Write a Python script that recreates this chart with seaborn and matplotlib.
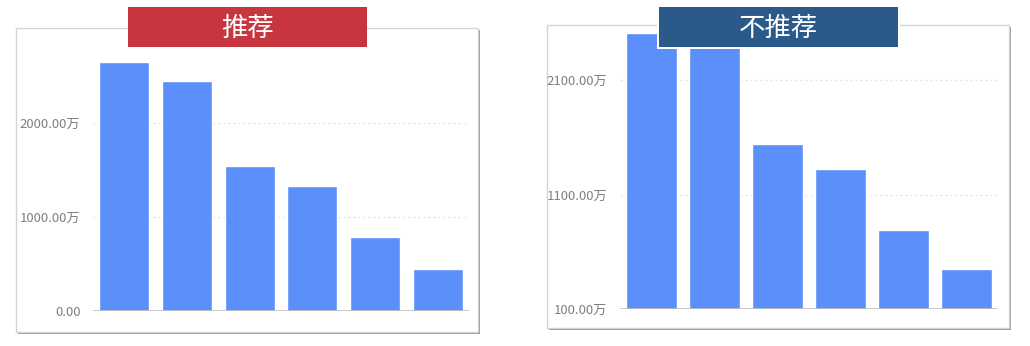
import matplotlib
matplotlib.use("Agg")
import matplotlib.pyplot as plt
import seaborn as sns
import pandas as pd
from matplotlib.patches import Rectangle
from matplotlib.ticker import FixedLocator, FuncFormatter
from matplotlib import font_manager

# ---- data ----
categories = ["1", "2", "3", "4", "5", "6"]
rec_values = [2650, 2450, 1545, 1325, 790, 450]          # 推荐 (万)
notrec_values = [2510, 2480, 1545, 1325, 795, 450]       # 不推荐 (万)
rec_ticks = [0, 1000, 2000]
notrec_ticks = [100, 1100, 2100]
titles = ["推荐", "不推荐"]

sns.set_theme(style="white")
plt.rcParams['font.family'] = ['Noto Sans CJK SC', 'DejaVu Sans']

try:
    font_manager.findfont(font_manager.FontProperties(family="Liberation Sans Narrow"),
                          fallback_to_default=False)
    TICK_FAMILY = ['Liberation Sans Narrow', 'Noto Sans CJK SC']
    TICK_SIZE = 10.5
except Exception:
    TICK_FAMILY = ['Noto Sans CJK SC', 'DejaVu Sans']
    TICK_SIZE = 9.5

W, H = 1030, 346
fig = plt.figure(figsize=(W / 100, H / 100), dpi=100)
fig.patch.set_facecolor("white")

def fx(px):
    return px / W

def fy(py):
    return 1 - py / H

BAR = "#5B8FF9"

def panel(box, ax_px, ylim, vals, ticks, title, tbox, tcolor, white_border):
    x0, y0, x1, y1 = box
    # shadow
    fig.patches.append(Rectangle((fx(x0 + 2), fy(y1 + 2)), fx(x1 - x0), (y1 - y0) / H,
                                 transform=fig.transFigure, facecolor="#9a9a9a",
                                 edgecolor="none", zorder=-2))
    fig.patches.append(Rectangle((fx(x0), fy(y1)), fx(x1 - x0), (y1 - y0) / H,
                                 transform=fig.transFigure, facecolor="white",
                                 edgecolor="#d4d4d4", linewidth=1.0, zorder=-1))
    ax0, ay0, ax1, ay1 = ax_px
    ax = fig.add_axes([fx(ax0), fy(ay1), fx(ax1 - ax0), (ay1 - ay0) / H])
    ax.set_zorder(1)
    ax.set_facecolor("none")
    df = pd.DataFrame({"cat": categories, "val": vals})
    sns.barplot(data=df, x="cat", y="val", color=BAR, width=0.8, saturation=1,
                ax=ax, zorder=3)
    ax.set_xlim(-0.5, 5.5)
    ax.set_ylim(*ylim)
    ax.yaxis.set_major_locator(FixedLocator(ticks))
    ax.yaxis.set_major_formatter(FuncFormatter(
        lambda v, p: "0.00" if v == 0 else f"{v:.2f}万"))
    for s in ax.spines.values():
        s.set_visible(False)
    ax.set_xticks([])
    ax.set_xlabel("")
    ax.set_ylabel("")
    ax.tick_params(axis="y", length=0, pad=9, labelsize=TICK_SIZE, labelcolor="#808080")
    for lab in ax.get_yticklabels():
        lab.set_family(TICK_FAMILY)
    for t in ticks[1:]:
        ax.axhline(t, color="#e0e0e0", linestyle=(0, (1.5, 2.5)), linewidth=0.9, zorder=1)
    ax.axhline(ticks[0], color="#c0c0c0", linewidth=1.2, zorder=4)
    # title box
    tx0, ty0, tx1, ty1 = tbox
    if white_border:
        fig.add_artist(Rectangle((fx(tx0 - 2), fy(ty1 + 2)), fx(tx1 - tx0 + 4), (ty1 - ty0 + 4) / H,
                                 transform=fig.transFigure, facecolor="white",
                                 edgecolor="none", zorder=5))
    fig.add_artist(Rectangle((fx(tx0), fy(ty1)), fx(tx1 - tx0), (ty1 - ty0) / H,
                             transform=fig.transFigure, facecolor=tcolor,
                             edgecolor="none", zorder=6))
    fig.text(fx((tx0 + tx1) / 2), fy((ty0 + ty1) / 2 + 1), title, color="white",
             fontsize=19, fontweight="medium", ha="center", va="center", zorder=7,
             family=['Noto Sans CJK SC', 'DejaVu Sans'])
    return ax

panel((16, 28, 478, 332), (93, 40, 469, 311), (0, 2883), rec_values, rec_ticks,
      titles[0], (128, 7, 367, 47), "#C7363F", False)
panel((547, 25, 1009, 328), (620, 28, 998, 309), (100, 2558), notrec_values, notrec_ticks,
      titles[1], (659, 7, 898, 47), "#2B5A8A", True)

fig.savefig("out.png", dpi=100, facecolor="white")
